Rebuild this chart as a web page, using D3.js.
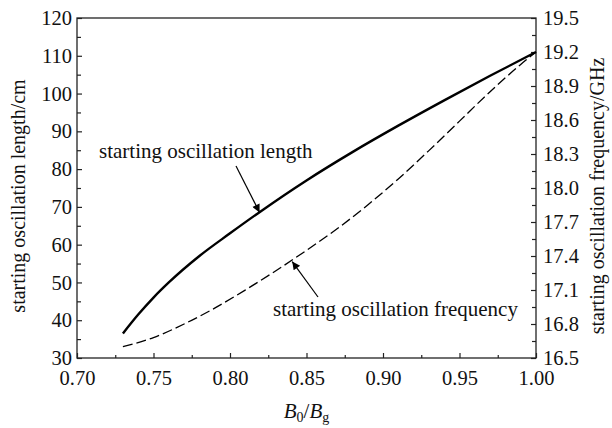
<!DOCTYPE html>
<html><head><meta charset="utf-8">
<script src="https://cdn.jsdelivr.net/npm/d3@7"></script>
<style>body{margin:0;background:#fff}svg{display:block}text{font-family:"Liberation Serif","Times New Roman",serif;fill:#111}</style>
</head><body>
<svg id="c" width="612" height="428"></svg>
<script>
const ratio = [0.73,0.74,0.75,0.76,0.78,0.80,0.82,0.85,0.88,0.91,0.94,0.97,1.00];
const lengthCm = [36.5,41.5,46.0,50.0,57.0,63.0,68.8,77.0,84.5,91.5,98.2,104.7,111.0];
const freqRatio = [0.73,0.75,0.77,0.79,0.81,0.83,0.85,0.87,0.89,0.91,0.93,0.95,0.97,0.99,1.00];
const freqGHz = [16.60,16.68,16.80,16.94,17.10,17.27,17.45,17.64,17.85,18.08,18.33,18.59,18.85,19.09,19.20];
const xTicks = [0.70,0.75,0.80,0.85,0.90,0.95,1.00];
const yLeftTicks = [30,40,50,60,70,80,90,100,110,120];
const yRightTicks = [16.5,16.8,17.1,17.4,17.7,18.0,18.3,18.6,18.9,19.2,19.5];

const L=77,R=536,T=18,B=358;
const svg=d3.select("#c");
const x=d3.scaleLinear().domain([0.70,1.00]).range([L,R]);
const yL=d3.scaleLinear().domain([30,120]).range([B,T]);
const yR=d3.scaleLinear().domain([16.5,19.5]).range([B,T]);
const axCol="#222";

function style(g){g.selectAll("line,path").attr("stroke",axCol).attr("stroke-width",1.2);g.selectAll("text").attr("font-size",20.5).attr("fill","#111").attr("font-family","Liberation Serif");}

// minor ticks
const xMinor=d3.range(0.725,1.0,0.05);
svg.append("g").attr("transform",`translate(0,${B})`).call(d3.axisBottom(x).tickValues(xMinor).tickSize(-3).tickFormat("")).call(g=>g.select(".domain").remove()).call(style);
svg.append("g").attr("transform",`translate(${L},0)`).call(d3.axisLeft(yL).tickValues(d3.range(35,120,10)).tickSize(-4).tickFormat("")).call(g=>g.select(".domain").remove()).call(style);
svg.append("g").attr("transform",`translate(${R},0)`).call(d3.axisRight(yR).tickValues(d3.range(16.65,19.5,0.3)).tickSize(-4).tickFormat("")).call(g=>g.select(".domain").remove()).call(style);

// major axes
svg.append("g").attr("transform",`translate(0,${B})`).call(d3.axisBottom(x).tickValues(xTicks).tickSize(-5).tickPadding(12).tickFormat(d3.format(".2f"))).call(g=>g.select(".domain").remove()).call(style);
svg.append("g").attr("transform",`translate(${L},0)`).call(d3.axisLeft(yL).tickValues(yLeftTicks).tickSize(-5).tickPadding(5)).call(g=>g.select(".domain").remove()).call(style);
svg.append("g").attr("transform",`translate(${R},0)`).call(d3.axisRight(yR).tickValues(yRightTicks).tickSize(-5).tickPadding(7).tickFormat(d3.format(".1f"))).call(g=>g.select(".domain").remove()).call(style);

svg.append("rect").attr("x",L).attr("y",T).attr("width",R-L).attr("height",B-T).attr("fill","none").attr("stroke",axCol).attr("stroke-width",1.3);

// curves
svg.append("path").datum(ratio.map((r,i)=>[r,lengthCm[i]]))
  .attr("d",d3.line().x(d=>x(d[0])).y(d=>yL(d[1])).curve(d3.curveMonotoneX))
  .attr("fill","none").attr("stroke","#000").attr("stroke-width",2.4);
svg.append("path").datum(freqRatio.map((r,i)=>[r,freqGHz[i]]))
  .attr("d",d3.line().x(d=>x(d[0])).y(d=>yR(d[1])).curve(d3.curveMonotoneX))
  .attr("fill","none").attr("stroke","#000").attr("stroke-width",1.3).attr("stroke-dasharray","10,4");

// annotations
svg.append("defs").append("marker").attr("id","ah").attr("viewBox","0 0 10 10").attr("refX",10).attr("refY",5)
  .attr("markerWidth",12).attr("markerHeight",8).attr("markerUnits","userSpaceOnUse").attr("orient","auto")
  .append("path").attr("d","M0,0 L10,5 L0,10 Z").attr("fill","#000");
function arrow(x1,y1,x2,y2){svg.append("line").attr("x1",x1).attr("y1",y1).attr("x2",x2).attr("y2",y2).attr("stroke","#000").attr("stroke-width",1.2).attr("marker-end","url(#ah)");}
svg.append("text").attr("x",99).attr("y",158).attr("font-size",21).text("starting oscillation length");
arrow(236,166,x(0.82)-1,yL(68.8)+1);
svg.append("text").attr("x",273).attr("y",316).attr("font-size",21).text("starting oscillation frequency");
arrow(318,297,x(0.84)+1,yR(17.36)+1);

// axis titles
svg.append("text").attr("transform","translate(25,196) rotate(-90)").attr("text-anchor","middle").attr("font-size",20).text("starting oscillation length/cm");
svg.append("text").attr("transform","translate(604,196) rotate(-90)").attr("text-anchor","middle").attr("font-size",20).text("starting oscillation frequency/GHz");
const xt=svg.append("text").attr("x",x(0.85)).attr("y",418).attr("text-anchor","middle").attr("font-size",21);
xt.append("tspan").attr("font-style","italic").text("B");
xt.append("tspan").attr("font-size",14).attr("dy",4).text("0");
xt.append("tspan").attr("dy",-4).text("/");
xt.append("tspan").attr("font-style","italic").text("B");
xt.append("tspan").attr("font-size",14).attr("dy",4).text("g");
</script>
</body></html>
